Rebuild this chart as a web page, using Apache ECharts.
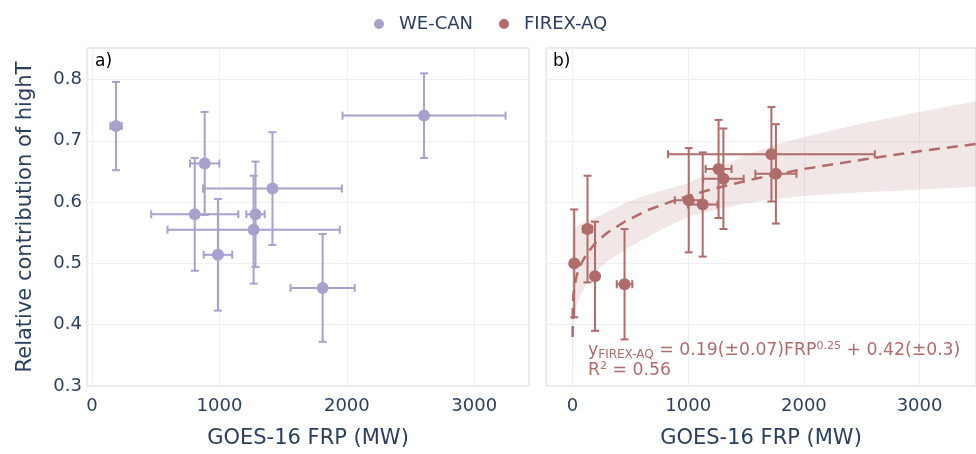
<!DOCTYPE html>
<html>
<head>
<meta charset="utf-8">
<script src="https://cdn.jsdelivr.net/npm/echarts@6/dist/echarts.min.js"></script>
<style>html,body{margin:0;padding:0;background:#fff;}#c{width:976px;height:454px;}</style>
</head>
<body>
<div id="c"></div>
<script>
// ---- Data ----
// WE-CAN (panel a)
var weX    = [188, 2606, 884, 806, 1416, 1283, 1268, 988, 1810];
var weY    = [0.724, 0.741, 0.663, 0.580, 0.622, 0.580, 0.555, 0.514, 0.460];
var weXerr = [45, 640, 115, 342, 545, 72, 676, 112, 252];
var weYerr = [0.072, 0.069, 0.084, 0.092, 0.092, 0.086, 0.088, 0.091, 0.088];
// FIREX-AQ (panel b)
var fxX    = [14, 129, 194, 449, 1004, 1125, 1262, 1304, 1719, 1758];
var fxY    = [0.500, 0.556, 0.479, 0.466, 0.603, 0.596, 0.654, 0.638, 0.678, 0.646];
var fxXerr = [0, 40, 0, 67, 120, 128, 112, 175, 894, 178];
var fxYerr = [0.088, 0.087, 0.089, 0.090, 0.085, 0.085, 0.080, 0.082, 0.077, 0.081];
// Fit curve
var fitX = [0, 2, 5, 10, 20, 40, 70, 120, 200, 300, 450, 650, 900, 1200, 1600, 2000, 2500, 3000, 3500];
var fitY = [0.380, 0.429, 0.441, 0.453, 0.467, 0.483, 0.498, 0.515, 0.534, 0.550, 0.568, 0.587, 0.604, 0.621, 0.639, 0.654, 0.669, 0.683, 0.695];
// Confidence band (read along the shaded area)
var bandX  = [0, 5, 10, 25, 50, 100, 150, 200, 300, 450, 600, 800, 1000, 1250, 1500, 1750, 2000, 2500, 3000, 3500];
var bandLo = [0.320, 0.375, 0.400, 0.425, 0.440, 0.460, 0.474, 0.485, 0.503, 0.522, 0.538, 0.558, 0.576, 0.588, 0.598, 0.605, 0.610, 0.616, 0.620, 0.625];
var bandHi = [0.545, 0.549, 0.552, 0.557, 0.562, 0.567, 0.571, 0.575, 0.584, 0.598, 0.609, 0.620, 0.631, 0.655, 0.677, 0.693, 0.706, 0.728, 0.747, 0.765];
// Tick labels
var xTicks = [0, 1000, 2000, 3000];
var yTicks = [0.3, 0.4, 0.5, 0.6, 0.7, 0.8];

var PURPLE = '#a6a1cd';
var BROWN = '#b06b6b';
var TXT = '#2a3f5f';
var GRIDC = '#ebf0f8';
var FONT = 'DejaVu Sans';

function zip4(a, b, c, d) { return a.map(function (v, i) { return [v, b[i], c[i], d[i]]; }); }
function zip2(a, b) { return a.map(function (v, i) { return [v, b[i]]; }); }

function errRenderer(color) {
  return function (params, api) {
    var x = api.value(0), y = api.value(1), ex = api.value(2), ey = api.value(3);
    var top = api.coord([x, y + ey]), bot = api.coord([x, y - ey]);
    var left = api.coord([x - ex, y]), right = api.coord([x + ex, y]);
    var cap = 4;
    var st = { stroke: color, lineWidth: 2, fill: null };
    var ch = [
      { type: 'line', shape: { x1: top[0], y1: top[1], x2: bot[0], y2: bot[1] }, style: st },
      { type: 'line', shape: { x1: top[0] - cap, y1: top[1], x2: top[0] + cap, y2: top[1] }, style: st },
      { type: 'line', shape: { x1: bot[0] - cap, y1: bot[1], x2: bot[0] + cap, y2: bot[1] }, style: st }
    ];
    if (ex > 0) {
      ch.push({ type: 'line', shape: { x1: left[0], y1: left[1], x2: right[0], y2: right[1] }, style: st });
      ch.push({ type: 'line', shape: { x1: left[0], y1: left[1] - cap, x2: left[0], y2: left[1] + cap }, style: st });
      ch.push({ type: 'line', shape: { x1: right[0], y1: right[1] - cap, x2: right[0], y2: right[1] + cap }, style: st });
    }
    return { type: 'group', children: ch };
  };
}

function bandRenderer(params, api) {
  if (params.dataIndex !== 0) return null;
  var pts = [];
  var n = params.dataInsideLength || bandX.length;
  for (var i = 0; i < bandX.length; i++) pts.push(api.coord([bandX[i], bandHi[i]]));
  for (var j = bandX.length - 1; j >= 0; j--) pts.push(api.coord([bandX[j], bandLo[j]]));
  return { type: 'polygon', shape: { points: pts }, style: { fill: 'rgba(176,107,107,0.16)', stroke: null } };
}

function xAxisDef(idx, min, max) {
  return {
    type: 'value', gridIndex: idx, min: min, max: max,
    name: 'GOES-16 FRP (MW)', nameLocation: 'middle', nameGap: 42,
    nameTextStyle: { fontFamily: FONT, fontSize: 21, color: TXT },
    axisLine: { show: false }, axisTick: { show: false, customValues: xTicks },
    axisLabel: { customValues: xTicks, fontFamily: FONT, fontSize: 18, color: TXT, margin: 11,
      formatter: function (v) { return String(Math.round(v)); } },
    splitLine: { show: true, lineStyle: { color: GRIDC, width: 1 } }
  };
}
function yAxisDef(idx, showLabels) {
  var a = {
    type: 'value', gridIndex: idx, min: 0.3, max: 0.8513,
    axisLine: { show: false }, axisTick: { show: false, customValues: yTicks },
    axisLabel: { show: showLabels, customValues: yTicks, fontFamily: FONT, fontSize: 18, color: TXT, margin: 5,
      formatter: function (v) { return (Math.round(v * 10) / 10).toFixed(1); } },
    splitLine: { show: true, lineStyle: { color: GRIDC, width: 1 } }
  };
  if (showLabels) {
    a.name = 'Relative contribution of highT';
    a.nameLocation = 'middle';
    a.nameGap = 51;
    a.nameTextStyle = { fontFamily: FONT, fontSize: 21, color: TXT };
  }
  return a;
}

var chart = echarts.init(document.getElementById('c'), null, { renderer: 'canvas' });
chart.setOption({
  animation: false,
  backgroundColor: '#ffffff',
  legend: {
    data: [{ name: 'WE-CAN', itemStyle: { color: PURPLE } }, { name: 'FIREX-AQ', itemStyle: { color: BROWN } }],
    left: 369, top: 10, icon: 'circle', itemWidth: 30, itemHeight: 10, itemGap: 26,
    textStyle: { fontFamily: FONT, fontSize: 18, color: TXT }
  },
  grid: [
    { left: 87, top: 48, width: 442, height: 344, show: true, borderColor: '#d8d8d8', borderWidth: 1, backgroundColor: 'transparent' },
    { left: 546, top: 48, width: 442, height: 344, show: true, borderColor: '#d8d8d8', borderWidth: 1, backgroundColor: 'transparent' }
  ],
  xAxis: [xAxisDef(0, -40, 3430), xAxisDef(1, -230, 3488)],
  yAxis: [yAxisDef(0, true), yAxisDef(1, false)],
  graphic: [
    { type: 'text', left: 95, top: 53, style: { text: 'a)', fontFamily: FONT, fontSize: 17, fill: '#000' } },
    { type: 'text', left: 553, top: 53, style: { text: 'b)', fontFamily: FONT, fontSize: 17, fill: '#000' } },
    { type: 'text', left: 588, top: 341, z: 10, style: {
        text: '{m|y}{s|FIREX-AQ}{m| = 0.19(±0.07)FRP}{p|0.25}{m| + 0.42(±0.3)}\n{m|R}{p|2}{m| = 0.56}',
        fontFamily: FONT, fill: BROWN,
        rich: {
          m: { fontFamily: FONT, fontSize: 17.3, lineHeight: 20, fill: BROWN, verticalAlign: 'middle' },
          s: { fontFamily: FONT, fontSize: 12, lineHeight: 13, fill: BROWN, verticalAlign: 'bottom' },
          p: { fontFamily: FONT, fontSize: 11, lineHeight: 10, fill: BROWN, verticalAlign: 'top' }
        }
      } }
  ],
  series: [
    { name: 'band', type: 'custom', xAxisIndex: 1, yAxisIndex: 1, clip: true,
      data: zip2(bandX, bandHi), renderItem: bandRenderer, silent: true, z: 1 },
    { name: 'fit', type: 'line', xAxisIndex: 1, yAxisIndex: 1, data: zip2(fitX, fitY),
      symbol: 'none', lineStyle: { color: BROWN, width: 2.5, type: [11, 7] }, silent: true, z: 2 },
    { name: 'weErr', type: 'custom', xAxisIndex: 0, yAxisIndex: 0, clip: true,
      data: zip4(weX, weY, weXerr, weYerr), renderItem: errRenderer(PURPLE), silent: true, z: 3 },
    { name: 'fxErr', type: 'custom', xAxisIndex: 1, yAxisIndex: 1, clip: true,
      data: zip4(fxX, fxY, fxXerr, fxYerr), renderItem: errRenderer(BROWN), silent: true, z: 3 },
    { name: 'WE-CAN', type: 'scatter', xAxisIndex: 0, yAxisIndex: 0, data: zip2(weX, weY),
      symbolSize: 12, itemStyle: { color: PURPLE, opacity: 1 }, z: 4 },
    { name: 'FIREX-AQ', type: 'scatter', xAxisIndex: 1, yAxisIndex: 1, data: zip2(fxX, fxY),
      symbolSize: 12, itemStyle: { color: BROWN, opacity: 1 }, z: 4 }
  ]
});
</script>
</body>
</html>
